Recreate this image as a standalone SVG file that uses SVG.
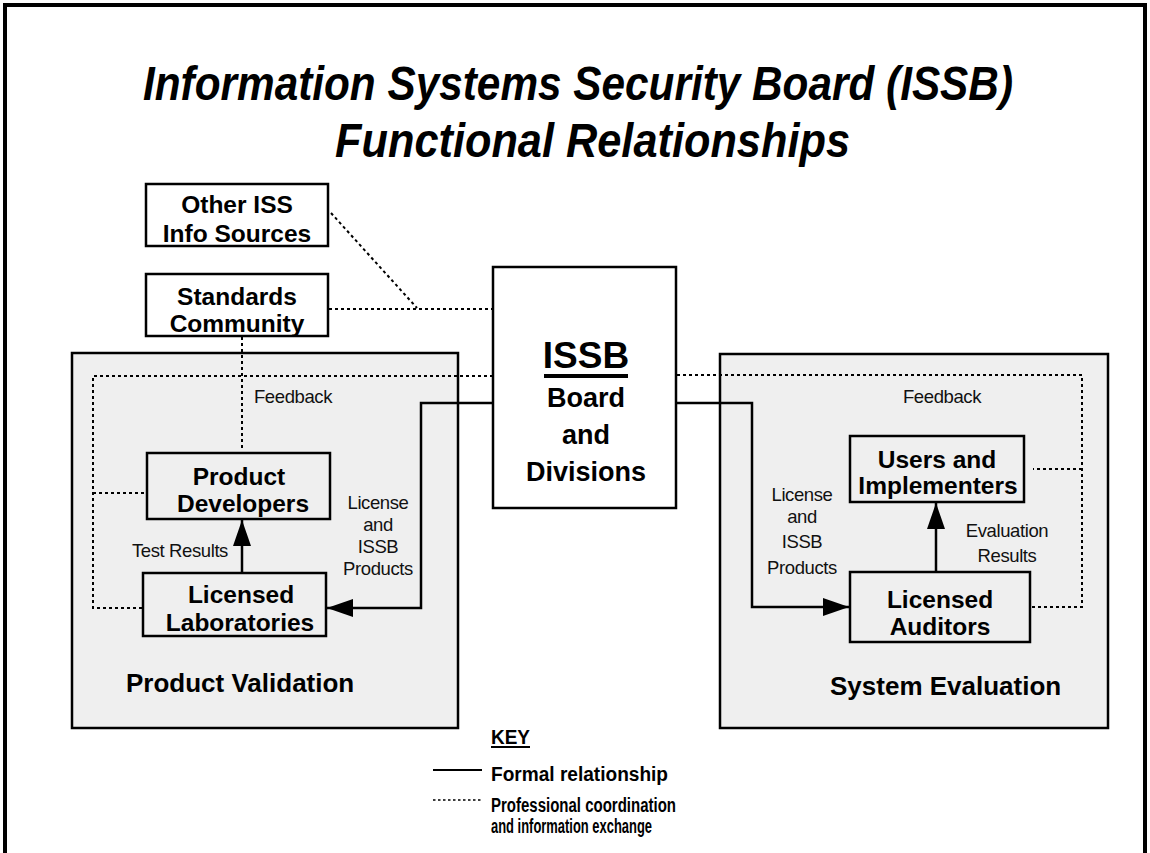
<svg xmlns="http://www.w3.org/2000/svg" width="1150" height="853" viewBox="0 0 1150 853">
  <style>
    .title { font-family: "Liberation Sans", Arial, sans-serif; font-weight: bold; font-style: italic; font-size: 49px; fill: #000; }
    .box { fill: none; stroke: #000; stroke-width: 2.5; }
    .wbox { fill: #fff; stroke: #000; stroke-width: 2.5; }
    .panel { fill: #efefef; stroke: #000; stroke-width: 2.5; }
    .node { font-family: "Liberation Sans", Arial, sans-serif; font-weight: bold; font-size: 24.5px; fill: #000; text-anchor: middle; }
    .panelLabel { font-family: "Liberation Sans", Arial, sans-serif; font-weight: bold; font-size: 26px; fill: #000; }
    .lbl { font-family: "Liberation Sans", Arial, sans-serif; font-size: 18.5px; fill: #111; text-anchor: middle; letter-spacing: -0.4px; }
    .key { font-family: "Liberation Sans", Arial, sans-serif; font-weight: bold; font-size: 19.5px; fill: #000; }
    .solid { fill: none; stroke: #000; stroke-width: 2.5; }
    .dotted { fill: none; stroke: #000; stroke-width: 2; stroke-dasharray: 3 3; }
  </style>
  <defs>
    <marker id="arrow" markerUnits="userSpaceOnUse" markerWidth="26" markerHeight="18" viewBox="0 0 26 18" refX="26" refY="9" orient="auto">
      <path d="M0,0 L26,9 L0,18 Z" fill="#000"/>
    </marker>
  </defs>

  <!-- page frame -->
  <path d="M5,853 V5 H1145 V853" fill="none" stroke="#000" stroke-width="4"/>

  <!-- title -->
  <g id="title">
    <text class="title" x="143" y="100" textLength="870" lengthAdjust="spacingAndGlyphs">Information Systems Security Board (ISSB)</text>
    <text class="title" x="335" y="157" textLength="515" lengthAdjust="spacingAndGlyphs">Functional Relationships</text>
  </g>

  <!-- shaded areas -->
  <g id="product-validation">
    <rect class="panel" x="72" y="353" width="386" height="375"/>
    <text class="panelLabel" x="126" y="692">Product Validation</text>
  </g>
  <g id="system-evaluation">
    <rect class="panel" x="720" y="354" width="388" height="374"/>
    <text class="panelLabel" x="830" y="695">System Evaluation</text>
  </g>

  <!-- connectors -->
  <g id="connectors">
    <!-- professional coordination -->
    <path class="dotted" d="M331,213 L417,308"/>
    <path class="dotted" d="M329,309 H493"/>
    <path class="dotted" d="M242,337 V451"/>
    <path class="dotted" d="M493,376 H93 V608 H143"/>
    <path class="dotted" d="M93,493 H147"/>
    <path class="dotted" d="M677,375 H1082 V607 H1031"/>
    <path class="dotted" d="M1082,469 H1033"/>
    <!-- formal relationships -->
    <path class="solid" d="M493,403 H421 V608 H327" marker-end="url(#arrow)"/>
    <path class="solid" d="M677,403 H752 V607 H849" marker-end="url(#arrow)"/>
    <path class="solid" d="M242,573 V520" marker-end="url(#arrow)"/>
    <path class="solid" d="M936,572 V503" marker-end="url(#arrow)"/>
    <!-- connector labels -->
    <text class="lbl" x="293" y="403">Feedback</text>
    <text class="lbl" x="942" y="403">Feedback</text>
    <text class="lbl" x="180" y="557">Test Results</text>
    <text class="lbl" x="378" y="509">License</text>
    <text class="lbl" x="378" y="531">and</text>
    <text class="lbl" x="378" y="553">ISSB</text>
    <text class="lbl" x="378" y="575">Products</text>
    <text class="lbl" x="802" y="501">License</text>
    <text class="lbl" x="802" y="523">and</text>
    <text class="lbl" x="802" y="548">ISSB</text>
    <text class="lbl" x="802" y="574">Products</text>
    <text class="lbl" x="1007" y="537">Evaluation</text>
    <text class="lbl" x="1007" y="562">Results</text>
  </g>

  <!-- nodes -->
  <g id="other-iss-info-sources">
    <rect class="wbox" x="146" y="184" width="182" height="62"/>
    <text class="node" x="237" y="213">Other ISS</text>
    <text class="node" x="237" y="242">Info Sources</text>
  </g>
  <g id="standards-community">
    <rect class="wbox" x="146" y="274" width="182" height="62"/>
    <text class="node" x="237" y="305">Standards</text>
    <text class="node" x="237" y="332">Community</text>
  </g>
  <g id="issb">
    <rect class="wbox" x="493" y="267" width="183" height="241"/>
    <text class="node" x="586" y="368" style="font-size:37px">ISSB</text>
    <rect x="544" y="374" width="84" height="4" fill="#000"/>
    <text class="node" x="586" y="407" style="font-size:27px">Board</text>
    <text class="node" x="586" y="444" style="font-size:27px">and</text>
    <text class="node" x="586" y="481" style="font-size:27px">Divisions</text>
  </g>
  <g id="product-developers">
    <rect class="box" x="147" y="453" width="183" height="66"/>
    <text class="node" x="239" y="485">Product</text>
    <text class="node" x="243" y="512">Developers</text>
  </g>
  <g id="licensed-laboratories">
    <rect class="box" x="143" y="573" width="183" height="63"/>
    <text class="node" x="241" y="603">Licensed</text>
    <text class="node" x="240" y="631">Laboratories</text>
  </g>
  <g id="users-and-implementers">
    <rect class="box" x="850" y="436" width="174" height="66"/>
    <text class="node" x="937" y="468">Users and</text>
    <text class="node" x="938" y="494">Implementers</text>
  </g>
  <g id="licensed-auditors">
    <rect class="box" x="850" y="572" width="180" height="70"/>
    <text class="node" x="940" y="608">Licensed</text>
    <text class="node" x="940" y="635">Auditors</text>
  </g>

  <!-- key -->
  <g id="key">
    <text class="key" x="491" y="744" textLength="39" lengthAdjust="spacingAndGlyphs">KEY</text>
    <rect x="491" y="746" width="39" height="2" fill="#000"/>
    <line x1="433" y1="770" x2="482" y2="770" stroke="#000" stroke-width="2"/>
    <text class="key" x="491" y="781" textLength="177" lengthAdjust="spacingAndGlyphs">Formal relationship</text>
    <line x1="433" y1="800" x2="482" y2="800" stroke="#000" stroke-width="1.5" stroke-dasharray="2.5 2.5"/>
    <text class="key" x="491" y="812" textLength="185" lengthAdjust="spacingAndGlyphs">Professional coordination</text>
    <text class="key" x="491" y="833" textLength="161" lengthAdjust="spacingAndGlyphs">and information exchange</text>
  </g>
</svg>
